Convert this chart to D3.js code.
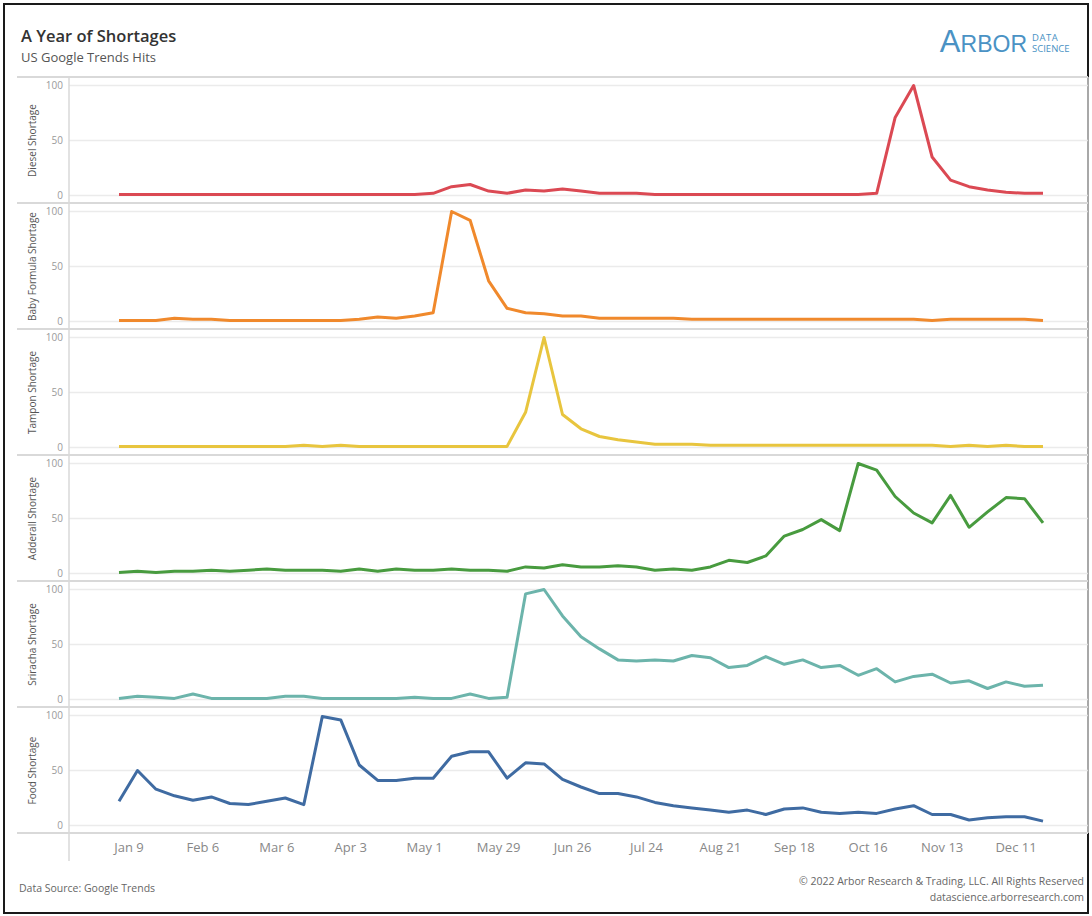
<!DOCTYPE html>
<html>
<head>
<meta charset="utf-8">
<script src="https://cdn.jsdelivr.net/npm/d3@7"></script>
<style>
  body { margin: 0; background: #fff; }
  svg { display: block; font-family: "Open Sans", "Noto Sans", sans-serif; }
</style>
</head>
<body>
<svg id="chart" width="1092" height="916"></svg>
<script>
// Weekly Google Trends hits, 2022 (weeks starting Sunday Jan 2 .. Dec 18)
const weeks = d3.timeWeek.range(new Date(2022, 0, 2), new Date(2022, 11, 19));

const tickLabels = ['Jan 9', 'Feb 6', 'Mar 6', 'Apr 3', 'May 1', 'May 29', 'Jun 26',
    'Jul 24', 'Aug 21', 'Sep 18', 'Oct 16', 'Nov 13', 'Dec 11'];
const yTicks = [0, 50, 100];

const seriesNames = ['Diesel Shortage', 'Baby Formula Shortage', 'Tampon Shortage',
    'Adderall Shortage', 'Sriracha Shortage', 'Food Shortage'];
const seriesColors = ['#db4953', '#f0892c', '#e8c53e', '#489b3f', '#6cb4ab', '#3f6ba2'];

const diesel = [1,1,1,1,1,1,1,1,1,1,1,1,1,1,1,1,1,
    2,8,10,4,2,5,4,6,4,2,2,2,1,
    1,1,1,1,1,1,1,1,1,1,1,
    2,71,100,35,14,8,5,3,2,2];
const babyFormula = [1,1,1,3,2,2,1,1,1,1,1,1,1,
    2,4,3,5,8,100,92,37,12,8,7,5,5,
    3,3,3,3,3,2,2,2,2,2,2,2,2,
    2,2,2,2,2,1,2,2,2,2,2,1];
const tampon = [1,1,1,1,1,1,1,1,1,1,
    2,1,2,1,1,1,1,1,1,1,1,1,
    32,100,30,17,10,7,5,3,3,3,
    2,2,2,2,2,2,2,2,2,2,2,2,2,1,2,1,2,1,1];
const adderall = [1,2,1,2,2,3,2,3,4,3,3,3,2,
    4,2,4,3,3,4,3,3,2,6,5,8,6,
    6,7,6,3,4,3,6,12,10,16,34,40,49,
    39,100,94,70,55,46,71,42,56,69,68,46];
const sriracha = [1,3,2,1,5,1,1,1,1,3,3,1,1,
    1,1,1,2,1,1,5,1,2,96,100,76,57,
    46,36,35,36,35,40,38,29,31,39,32,36,29,
    31,22,28,16,21,23,15,17,10,16,12,13];
const food = [22,50,33,27,23,26,20,19,22,25,19,99,96,
    55,41,41,43,43,63,67,67,43,57,56,42,35,
    29,29,26,21,18,16,14,12,14,10,15,16,12,
    11,12,11,15,18,10,10,5,7,8,8,4];

const seriesValues = [diesel, babyFormula, tampon, adderall, sriracha, food];

// Layout
const plotLeft = 69;
const plotRight = 1088;
const panelTop = 77;
const panelHeight = 126;
const padTop = 8.5;
const padBottom = 7.5;

const svg = d3.select('svg#chart');

// Outer frame
svg.append('rect')
    .attr('x', 4).attr('y', 4)
    .attr('width', 1084).attr('height', 909)
    .attr('fill', 'none')
    .attr('stroke', '#1a1a1a')
    .attr('stroke-width', 2);

// Title block
svg.append('text')
    .attr('x', 21).attr('y', 42)
    .style('font-size', '16.5px')
    .style('font-weight', 600)
    .attr('fill', '#333')
    .text('A Year of Shortages');

svg.append('text')
    .attr('x', 21).attr('y', 62)
    .style('font-size', '13px')
    .attr('fill', '#555')
    .text('US Google Trends Hits');

// Logo
const logo = svg.append('text')
    .attr('x', 1027).attr('y', 52)
    .attr('text-anchor', 'end')
    .attr('fill', '#4a92c4')
    .style('font-family', '"Liberation Sans", sans-serif');
logo.append('tspan').style('font-size', '31px').text('A');
logo.append('tspan').style('font-size', '23px').text('RBOR');

svg.append('text')
    .attr('x', 1032).attr('y', 41)
    .attr('fill', '#4a92c4')
    .style('font-size', '9.5px')
    .style('letter-spacing', '0.5px')
    .text('DATA');
svg.append('text')
    .attr('x', 1032).attr('y', 52)
    .attr('fill', '#4a92c4')
    .style('font-size', '9.5px')
    .text('SCIENCE');

// Scales
const xScale = d3.scaleTime()
    .domain(d3.extent(weeks))
    .range([119, 1043]);

const parseTick = d3.timeParse('%b %d %Y');
const tickDates = tickLabels.map(t => parseTick(t + ' 2022'));

const line = d3.line()
    .x(d => xScale(d.date))
    .y(d => d.y);

seriesNames.forEach((name, k) => {
    const top = panelTop + k * panelHeight;
    const yScale = d3.scaleLinear()
        .domain([0, 100])
        .range([top + panelHeight - padBottom, top + padTop]);

    const g = svg.append('g');

    // gridlines
    g.selectAll('line.grid')
        .data(yTicks)
        .enter()
        .append('line')
        .attr('class', 'grid')
        .attr('x1', plotLeft).attr('x2', plotRight)
        .attr('y1', d => yScale(d)).attr('y2', d => yScale(d))
        .attr('stroke', '#ebebeb')
        .attr('stroke-width', 1.5);

    // y axis tick labels
    const yAxis = d3.axisLeft(yScale)
        .tickValues(yTicks)
        .tickSize(0)
        .tickPadding(6);
    g.append('g')
        .attr('transform', `translate(${plotLeft}, 0)`)
        .call(yAxis)
        .call(a => a.select('.domain').remove())
        .call(a => a.selectAll('text')
            .attr('fill', '#9a9a9a')
            .style('font-size', '10px')
            .style('font-family', '"Open Sans", sans-serif'));

    // y axis title
    g.append('text')
        .attr('transform', `translate(36, ${yScale(50)}) rotate(-90)`)
        .attr('text-anchor', 'middle')
        .style('font-size', '10px')
        .attr('fill', '#555')
        .text(name);

    // the series line
    const pts = seriesValues[k].map((v, i) => ({ date: weeks[i], y: yScale(v) }));
    g.append('path')
        .datum(pts)
        .attr('d', line)
        .attr('fill', 'none')
        .attr('stroke', seriesColors[k])
        .attr('stroke-width', 3)
        .attr('stroke-linejoin', 'round');

    // separator under the panel
    svg.append('line')
        .attr('x1', 17).attr('x2', plotRight)
        .attr('y1', top + panelHeight).attr('y2', top + panelHeight)
        .attr('stroke', '#d9d9d9')
        .attr('stroke-width', 2);
});

// header separator
svg.append('line')
    .attr('x1', 17).attr('x2', plotRight)
    .attr('y1', panelTop).attr('y2', panelTop)
    .attr('stroke', '#d9d9d9')
    .attr('stroke-width', 2);

const plotBottom = panelTop + seriesNames.length * panelHeight;

// axis divider and right edge
svg.append('line')
    .attr('x1', plotLeft).attr('x2', plotLeft)
    .attr('y1', panelTop).attr('y2', plotBottom + 28)
    .attr('stroke', '#d9d9d9')
    .attr('stroke-width', 1.5);
svg.append('line')
    .attr('x1', plotRight).attr('x2', plotRight)
    .attr('y1', panelTop).attr('y2', plotBottom)
    .attr('stroke', '#d9d9d9')
    .attr('stroke-width', 1.5);

// x axis
const xAxis = d3.axisBottom(xScale)
    .tickValues(tickDates)
    .tickFormat((d, i) => tickLabels[i])
    .tickSize(0)
    .tickPadding(10);

svg.append('g')
    .attr('id', 'x-axis')
    .attr('transform', `translate(0, ${plotBottom})`)
    .call(xAxis)
    .call(a => a.select('.domain').remove())
    .call(a => a.selectAll('text')
        .attr('dx', -9)
        .attr('fill', '#888')
        .style('font-size', '13px')
        .style('font-family', '"Open Sans", sans-serif'));

// Footer
svg.append('text')
    .attr('x', 19).attr('y', 892)
    .style('font-size', '10.5px')
    .attr('fill', '#666')
    .text('Data Source: Google Trends');

svg.append('text')
    .attr('x', 1084).attr('y', 885)
    .attr('text-anchor', 'end')
    .style('font-size', '10.5px')
    .attr('fill', '#666')
    .text('© 2022 Arbor Research & Trading, LLC. All Rights Reserved');

svg.append('text')
    .attr('x', 1084).attr('y', 901)
    .attr('text-anchor', 'end')
    .style('font-size', '10.5px')
    .attr('fill', '#666')
    .text('datascience.arborresearch.com');
</script>
</body>
</html>
